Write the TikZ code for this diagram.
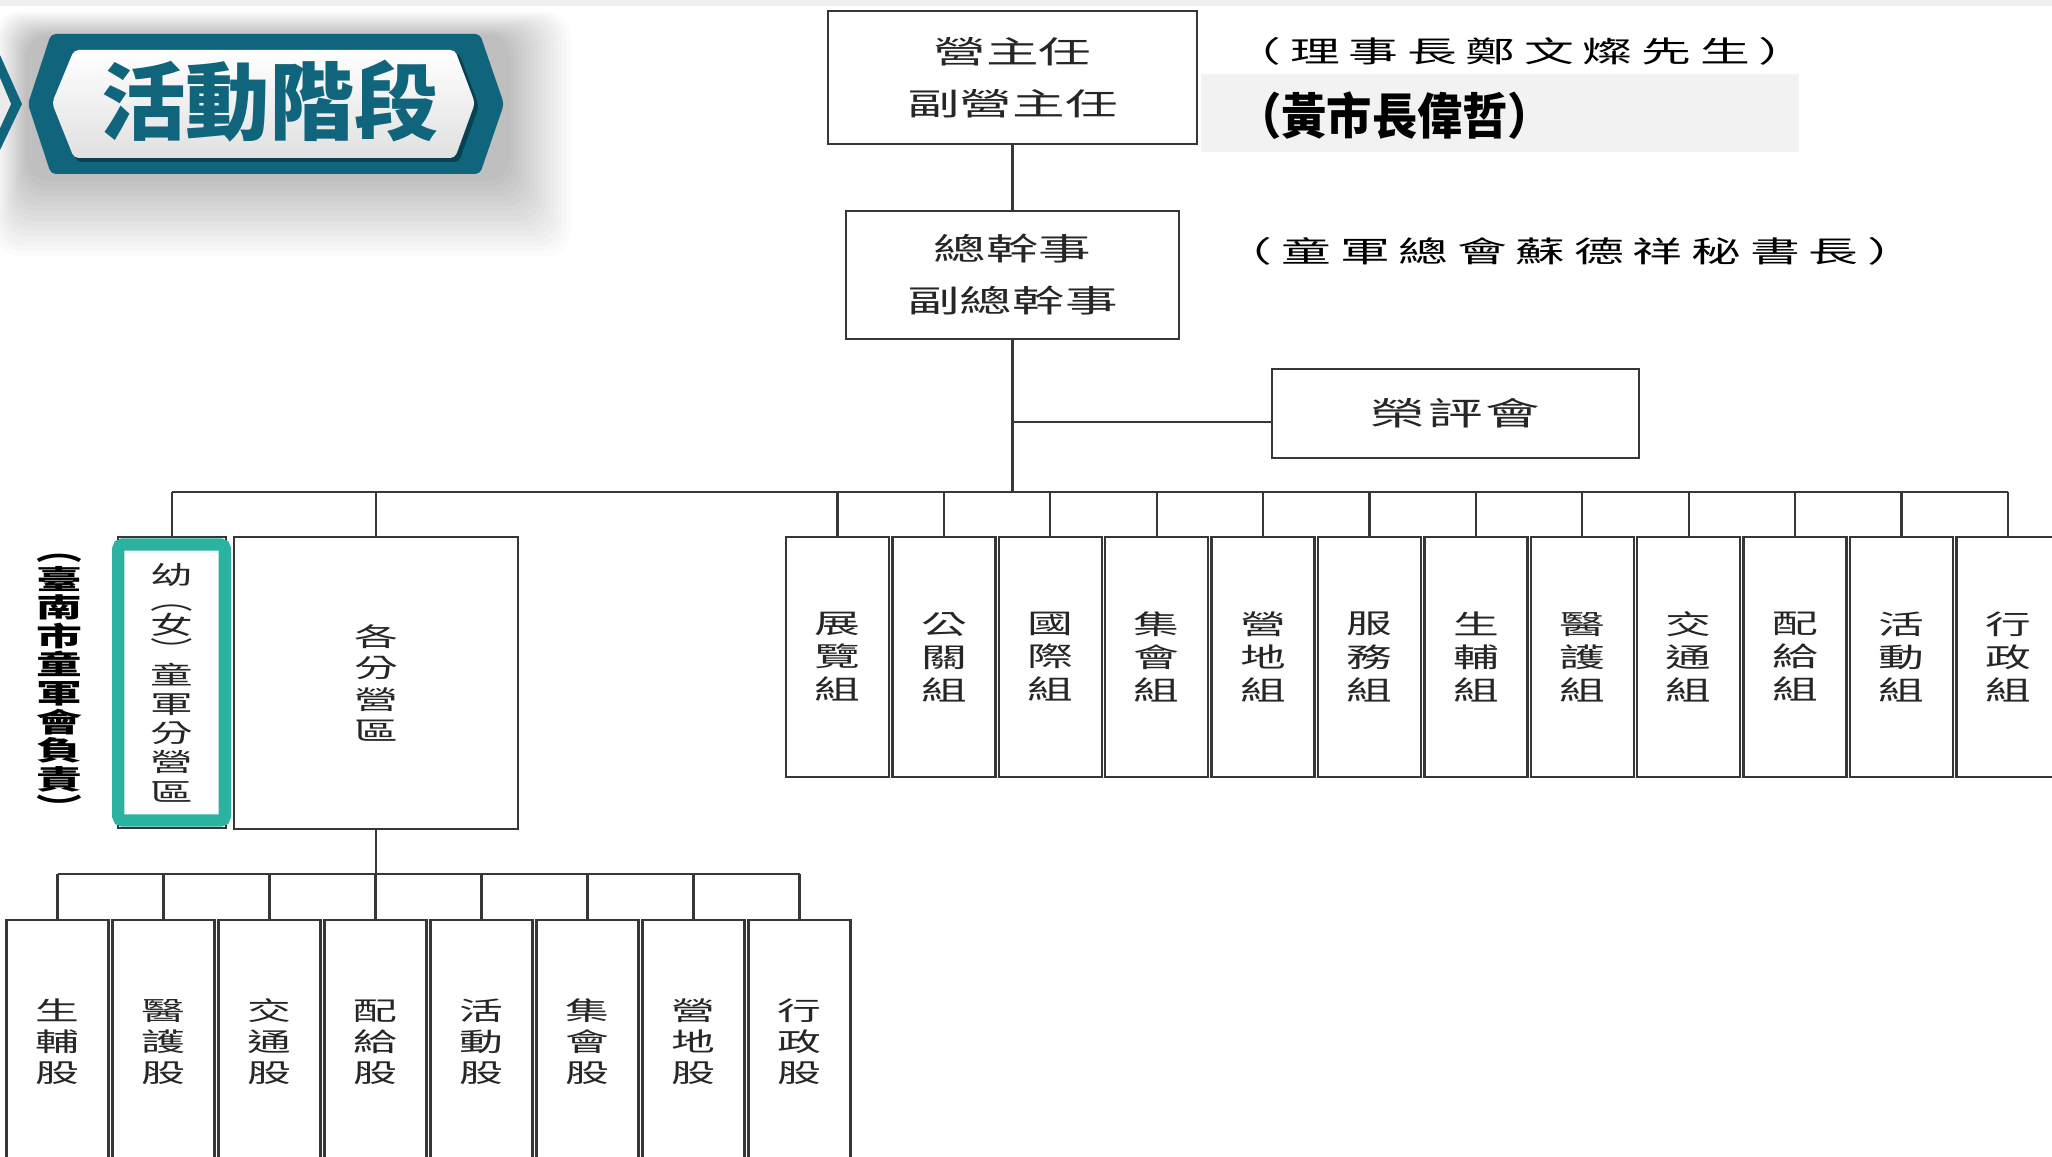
\documentclass[tikz,border=0pt]{standalone}
\usepackage{fontspec}
\setmainfont{Noto Sans CJK TC}
\newfontfamily\chart[FakeStretch=1.7]{Noto Sans CJK TC}
\newfontfamily\wide[FakeStretch=1.7,LetterSpace=30]{Noto Sans CJK TC}
\newfontfamily\heiti{Noto Sans CJK TC}
\newfontfamily\narrow[FakeStretch=0.92]{Noto Sans CJK TC}
\definecolor{ttl}{RGB}{16,101,124}
\definecolor{ttldark}{RGB}{8,66,82}
\definecolor{mark}{RGB}{44,178,160}
\definecolor{edge}{RGB}{55,55,55}
\definecolor{hint}{RGB}{242,242,242}
\tikzset{
  box/.style={draw=edge, line width=1pt, fill=white, inner sep=0pt, align=center, text=black!85},
  head/.style={box, font=\chart\fontsize{13.2}{22.2}\selectfont},
  grp/.style={box, minimum width=1.545cm, minimum height=3.6cm, font=\chart\fontsize{11.5}{14.1}\selectfont},
  stock/.style={box, minimum width=1.53cm, minimum height=3.66cm, font=\chart\fontsize{11}{13.2}\selectfont},
  remark/.style={font=\wide\fontsize{12.5}{14}\selectfont, text=black},
  link/.style={draw=edge, line width=1pt}
}
\begin{document}
\begin{tikzpicture}[x=0.015cm, y=-0.015cm]
  \useasboundingbox (0,0) rectangle (2052,1157);
  \clip (0,0) rectangle (2052,1157);
  \fill[white] (0,0) rectangle (2052,1157);
  \fill[black!6] (0,0) rectangle (2052,6);
  % title banner
  \foreach \s in {1,...,16}
    \fill[black, opacity=0.015, rounded corners=10pt] ({28-2*\s},{36-1.5*\s}) rectangle ({506+4*\s},{176+5*\s});
  \fill[ttl] (0,55) -- (22,104) -- (0,150) -- cycle;
  \fill[black!8] (0,78) -- (11,104) -- (0,128) -- cycle;
  \fill[ttl, rounded corners=2pt] (28,104) -- (51,34) -- (480,34) -- (504,104) -- (480,174) -- (51,174) -- cycle;
  \fill[ttldark, rounded corners=2pt] (55,106) -- (77,53) -- (459,53) -- (479,106) -- (459,162) -- (77,162) -- cycle;
  \shade[top color=white, bottom color=black!12, rounded corners=2pt] (52,103) -- (74,50) -- (455,50) -- (475,103) -- (455,158) -- (74,158) -- cycle;
  \node[font=\heiti\bfseries\fontsize{36}{40}\selectfont, text=ttl] (title) at (270,101) {活動階段};
  % upper levels
  \fill[hint] (1201,74) rectangle (1799,152);
  \node[head, minimum width=5.535cm, minimum height=1.995cm] (mgr) at (1012.5,77.5) {營主任\\副營主任};
  \node[head, minimum width=4.995cm, minimum height=1.92cm] (gen) at (1012.5,275) {總幹事\\副總幹事};
  \node[box, minimum width=5.505cm, minimum height=1.335cm, font=\chart\addfontfeature{LetterSpace=10}\fontsize{13.7}{16}\selectfont] (honor) at (1455.5,413.5) {榮評會};
  \node[remark] (chair) at (1520,51) {（理事長鄭文燦先生）};
  \node[font=\narrow\bfseries\fontsize{21}{24}\selectfont, anchor=west] (mayor) at (1228,116) {（黃市長偉哲）};
  \node[remark] (sec) at (1570,251) {（童軍總會蘇德祥秘書長）};
  \coordinate (bus) at (0,492);
  \coordinate (bus2) at (0,874);
  \draw[link] (mgr) -- (gen);
  \draw[link] (gen.south) -- (gen.south |- bus);
  \draw[link] ([yshift=-3.5pt]honor.west) -- ([yshift=-3.5pt]honor.west -| gen.south);
  % groups
  \foreach \a/\b [count=\i from 0] in {展/覽,公/關,國/際,集/會,營/地,服/務,生/輔,醫/護,交/通,配/給,活/動,行/政}{
    \node[grp] (g\i) at ({837.5+106.4*\i},657) {\a\\\b\\組};
    \draw[link] (g\i.north) -- (g\i.north |- bus);
  }
  % branch camps
  \node[box, minimum width=1.62cm, minimum height=4.365cm, font=\chart\fontsize{10.7}{12.45}\selectfont] (cub) at (172,682.5) {幼\\[-1.75pt]︵\\[-1.75pt]女\\[-1.75pt]︶\\[-1.75pt]童\\軍\\分\\營\\區};
  \node[draw=mark, line width=5.3pt, rounded corners=2pt, minimum width=1.6cm, minimum height=4.14cm] (cubmark) at (171.6,682.5) {};
  \node[box, minimum width=4.26cm, minimum height=4.38cm, font=\chart\fontsize{11}{13.4}\selectfont] (sub) at (376,683) {各\\分\\營\\區};
  \node[font=\chart\bfseries\fontsize{11.5}{12.2}\selectfont, align=center, text=black] (resp) at (59,686) {︵\\臺\\南\\市\\童\\軍\\會\\負\\責\\︶};
  \draw[link] (cub.north |- bus) -- (g11.north |- bus);
  \draw[link] (cub.north) -- (cub.north |- bus);
  \draw[link] (sub.north) -- (sub.north |- bus);
  % sections
  \foreach \a/\b [count=\i from 0] in {生/輔,醫/護,交/通,配/給,活/動,集/會,營/地,行/政}{
    \node[stock] (s\i) at ({57.5+106*\i},1042) {\a\\\b\\股};
    \draw[link] (s\i.north) -- (s\i.north |- bus2);
  }
  \draw[link] (s0.north |- bus2) -- (s7.north |- bus2);
  \draw[link] (sub.south) -- (sub.south |- s3.north);
\end{tikzpicture}
\end{document}
